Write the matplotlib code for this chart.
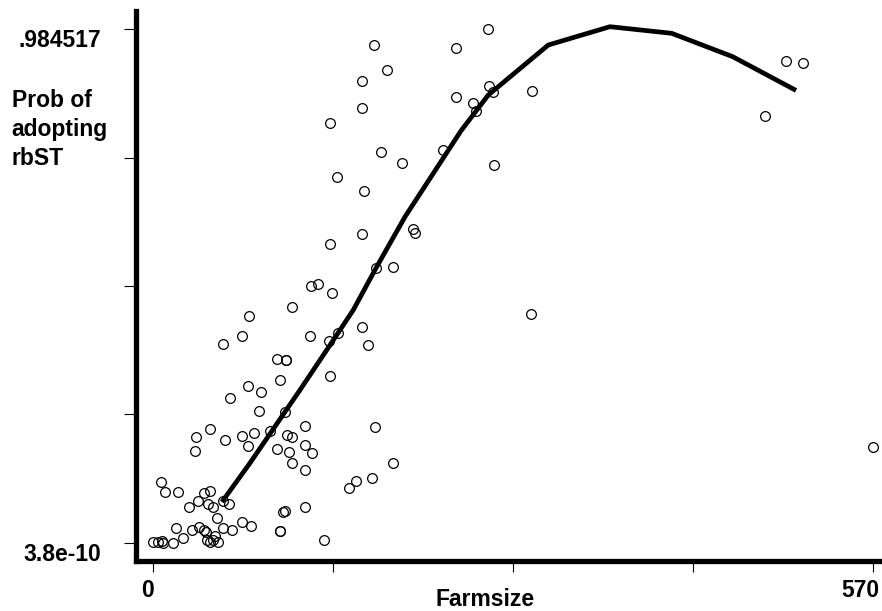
import numpy as np
import matplotlib
matplotlib.use('Agg')
import matplotlib.pyplot as plt
import matplotlib.transforms as mtransforms

plt.rcParams['font.family'] = ['Liberation Sans', 'DejaVu Sans']
plt.rcParams['font.weight'] = 'bold'

farmsize = [174.7, 185.0, 165.0, 165.0, 139.7, 180.0, 197.1, 145.2, 167.0, 205.8,
            206.9, 165.0, 139.7, 176.1, 189.8, 124.8, 130.2, 141.7, 264.7, 239.6,
            265.8, 269.2, 239.6, 252.9, 255.2, 229.6, 270.0, 299.6, 500.6, 514.1,
            484.3, 299.4, 570.0, 110.0, 76.0, 165.0, 70.0, 123.8, 54.9, 139.1,
            146.5, 169.7, 97.9, 105.1, 105.2, 100.1, 139.7, 75.0, 85.0, 61.0,
            83.4, 104.5, 44.9, 175.8, 119.9, 34.0, 56.8, 70.2, 79.7, 92.6,
            75.0, 106.1, 110.0, 119.9, 33.3, 97.9, 107.2, 125.6, 110.0, 119.9,
            189.8, 173.1, 160.2, 154.7, 5.9, 9.3, 19.8, 40.1, 44.9, 35.2,
            43.1, 47.0, 28.0, 55.4, 59.9, 119.9, 102.4, 104.3, 50.2, 18.0,
            30.9, 36.4, 40.1, 41.7, 54.9, 62.1, 70.2, 77.3, 100.1, 100.2,
            23.8, 0.0, 4.0, 6.6, 7.9, 15.4, 42.3, 44.9, 47.0, 48.8,
            51.2, 134.9]
prob = [0.9538, 0.9065, 0.8859, 0.8342, 0.8048, 0.7498, 0.7287, 0.7018, 0.6750, 0.6010,
        0.5945, 0.5914, 0.5728, 0.5273, 0.5281, 0.4922, 0.4955, 0.4794, 0.9851, 0.9492,
        0.8758, 0.8648, 0.8547, 0.8432, 0.8278, 0.7530, 0.7249, 0.8662, 0.9243, 0.9193,
        0.8188, 0.4386, 0.1841, 0.4514, 0.4353, 0.4136, 0.3964, 0.3964, 0.3816, 0.3874,
        0.4015, 0.3791, 0.3528, 0.3509, 0.3507, 0.3114, 0.3202, 0.3005, 0.2896, 0.2769,
        0.2531, 0.2501, 0.2186, 0.2213, 0.2232, 0.2027, 0.1964, 0.2040, 0.2098, 0.2148,
        0.1860, 0.2071, 0.2027, 0.1873, 0.1753, 0.1791, 0.1739, 0.1714, 0.1523, 0.1394,
        0.1523, 0.1235, 0.1183, 0.1043, 0.1170, 0.0972, 0.0972, 0.0959, 0.0997, 0.0800,
        0.0742, 0.0690, 0.0685, 0.0800, 0.0748, 0.0685, 0.0583, 0.0614, 0.0468, 0.0288,
        0.0244, 0.0307, 0.0244, 0.0199, 0.0276, 0.0238, 0.0391, 0.0326, 0.0230, 0.0228,
        0.0096, 0.0008, 0.0008, 0.0038, 0.0, 0.0, 0.0046, 0.0019, 0.0052, 0.0128,
        0.0008, 0.0052]

# fitted curve
fit_x = [55.4, 76.0, 116.1, 137.3, 158.3, 176.9, 199.3, 221.7, 243.6, 265.2,
         312.7, 361.5, 410.4, 458.7, 507.2]
fit_y = [0.0819, 0.1509, 0.2928, 0.3695, 0.4462, 0.5293, 0.6251, 0.7084, 0.7899, 0.8585,
         0.9544, 0.9895, 0.9768, 0.9320, 0.8694]

ymax = 0.984517
yticks = [3.8e-10, ymax / 4, ymax / 2, 3 * ymax / 4, ymax]
ylabels = ['3.8e-10', '', '', '', '.984517']
xticks = [0, 142.5, 285, 427.5, 570]
xlabels = ['0', '', '', '', '570']

fig = plt.figure(figsize=(8.82, 6.11), dpi=100)
ax = fig.add_axes([135.5 / 882, 1 - 560.8 / 611, 1 - 135.5 / 882, (560.8 - 11) / 611])

ax.plot(farmsize, prob, 'o', ms=7, mfc='none', mec='black', mew=0.9, zorder=2)
ax.plot(fit_x, fit_y, '-', color='black', lw=3.4, zorder=3)

ax.set_xlim(-14.1, 576.9)
ax.set_ylim(-0.0347, 1.0196)

for side in ['top', 'right']:
    ax.spines[side].set_visible(False)
for side in ['left', 'bottom']:
    ax.spines[side].set_linewidth(3.8)

ax.set_yticks(yticks, ylabels)
ax.set_xticks(xticks, xlabels)
ax.tick_params(axis='y', length=9, width=0.8, pad=16, labelsize=16.5)
ax.tick_params(axis='x', length=8, width=0.8, pad=5, labelsize=16.5)
for lab in ax.get_yticklabels():
    lab.set_va('top')
    lab.set_fontweight('bold')
xl = ax.get_xticklabels()
for lab in xl:
    lab.set_ha('right')
    lab.set_fontweight('bold')
xl[0].set_transform(xl[0].get_transform() + mtransforms.ScaledTranslation(1 / 100, 0, fig.dpi_scale_trans))
xl[-1].set_transform(xl[-1].get_transform() + mtransforms.ScaledTranslation(6 / 100, 0, fig.dpi_scale_trans))

ax.set_xlabel('Farmsize', fontsize=16.5, fontweight='bold', va='top')
ax.xaxis.set_label_coords(0.4678, -0.050)
ax.set_ylabel('Prob of\nadopting\nrbST', fontsize=16.5, fontweight='bold',
              rotation=0, ha='left', va='center', multialignment='left', linespacing=1.35)
ax.yaxis.set_label_coords(-0.1658, 0.7845)

fig.savefig('out.png', dpi=100)
